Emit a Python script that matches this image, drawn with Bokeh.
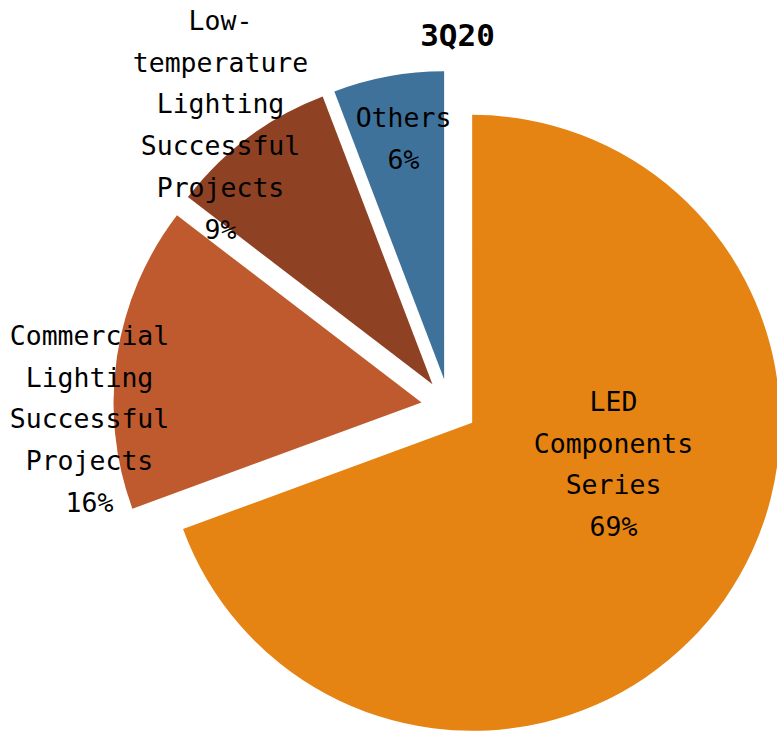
import math
from bokeh.plotting import figure
from bokeh.models import Range1d, ColumnDataSource
from bokeh.core.properties import value
from bokeh.embed import file_html
from bokeh.resources import INLINE

# ---- data ----
categories = ["LED Components Series",
              "Commercial Lighting Successful Projects",
              "Low-temperature Lighting Successful Projects",
              "Others"]
values = [69.4, 16.0, 8.8, 5.8]
label_lines = [["LED", "Components", "Series"],
               ["Commercial", "Lighting", "Successful", "Projects"],
               ["Low-", "temperature", "Lighting", "Successful", "Projects"],
               ["Others"]]
title_text = "3Q20"

# ---- style / layout ----
colors = ["#E58413", "#BE5A2D", "#8E4123", "#3F729B"]
W, H = 777, 732
CX, CY = 448.7, -406.3  # pie centre (px, y up)
R = 308                 # radius (px)
EXPLODE = 28            # explosion distance (px)
label_anchor = [(613, -401), (89, -335), (220, -20), (403, -117)]  # first-line centre
LINE = 41.7
FONT = "DejaVu Sans Mono"

p = figure(width=W, height=H, output_backend="svg", toolbar_location=None,
           x_axis_type=None, y_axis_type=None, min_border=0,
           x_range=Range1d(0, W), y_range=Range1d(-H, 0))
p.outline_line_color = None
p.grid.visible = False
p.background_fill_color = "white"
p.border_fill_color = "white"

total = sum(values)
xs, ys, sa, ea = [], [], [], []
cum = 0.0
for v in values:
    c0 = cum / total
    cum += v
    c1 = cum / total
    s = math.pi / 2 - 2 * math.pi * c0
    e = math.pi / 2 - 2 * math.pi * c1
    mid = (s + e) / 2
    xs.append(CX + EXPLODE * math.cos(mid))
    ys.append(CY + EXPLODE * math.sin(mid))
    sa.append(s)
    ea.append(e)

src = ColumnDataSource(dict(x=xs, y=ys, start=sa, end=ea, color=colors, cat=categories))
p.wedge(x="x", y="y", radius=R, start_angle="start", end_angle="end",
        direction="clock", fill_color="color", line_color=None, source=src)

tx, ty, tt = [], [], []
for lines, v, (ax, ay) in zip(label_lines, values, label_anchor):
    all_lines = lines + [f"{round(v)}%"]
    for k, ln in enumerate(all_lines):
        tx.append(ax)
        ty.append(ay - k * LINE)
        tt.append(ln)

p.text(x=tx, y=ty, text=tt, text_align="center", text_baseline="middle",
       text_font=value(FONT), text_font_size="26.5px", text_color="black")

p.text(x=[457], y=[-34], text=[title_text], text_align="center", text_baseline="middle",
       text_font=value(FONT), text_font_size="31px", text_font_style="bold",
       text_color="black")

open("out.html", "w").write(file_html(p, INLINE))
